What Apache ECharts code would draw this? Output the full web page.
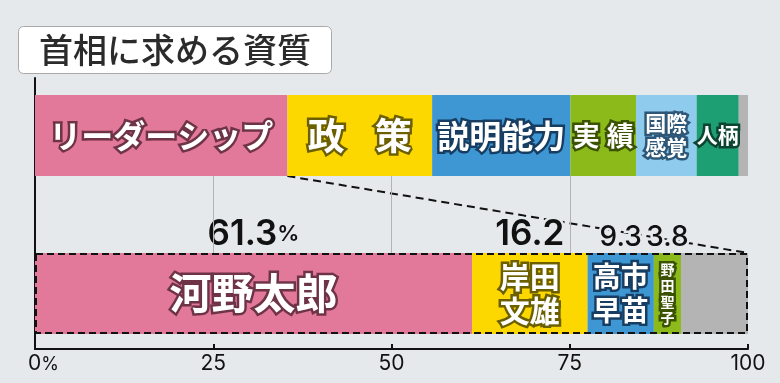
<!DOCTYPE html>
<html><head><meta charset="utf-8">
<script src="https://cdn.jsdelivr.net/npm/echarts/dist/echarts.min.js"></script>
<style>html,body{margin:0;padding:0;background:#e6e9eb}#c{width:780px;height:383px}</style>
</head><body><div id="c"></div>
<script>
// ---- data ----
const chartTitle = '首相に求める資質';
const topCategories = ['リーダーシップ', '政策', '説明能力', '実績', '国際感覚', '人柄', 'その他'];
const topLabels = ['リーダーシップ', '政{g|}策', '説明能力', '実{h|}績', '国際\n感覚', '人柄', ''];
const topValues = [35.4, 20.3, 19.4, 9.2, 8.5, 5.9, 1.3];
const candidates = ['河野太郎', '岸田文雄', '高市早苗', '野田聖子', 'その他'];
const candidateLabels = ['河野太郎', '岸田\n文雄', '高市\n早苗', '野\n田\n聖\n子', ''];
const candidateValues = [61.3, 16.2, 9.3, 3.8, 9.4];
const candidateValueLabels = ['61.3', '16.2', '9.3', '3.8', ''];
const axisTicks = [0, 25, 50, 75, 100];
const gridLineValues = [25, 50, 75];

// ---- styles ----
const FONT_JP = '"Noto Sans CJK JP", "Noto Sans", sans-serif';
const FONT_NUM = 'Inter, Lato, "Open Sans", sans-serif';
const topColors = ['#e3799a', '#fcd800', '#3e97d3', '#8cba1b', '#8fcbec', '#1d9e73', '#b4b4b4'];
const topStrokes = ['#6e3346', '#6b5f00', '#173e62', '#3b5200', '#2d5677', '#0b4532', '#000'];
const topFont = [{s: 32}, {s: 37}, {s: 32}, {s: 27}, {s: 21, lh: 24}, {s: 21}, {s: 10}];
const candColors = ['#e3799a', '#fcd800', '#3e97d3', '#8cba1b', '#b4b4b4'];
const candStrokes = ['#6e3346', '#6b5f00', '#173e62', '#3b5200', '#000'];
const candFont = [{s: 42}, {s: 30, lh: 34}, {s: 28, lh: 34}, {s: 14, lh: 16}, {s: 10}];
const BG = '#e6e9eb';

const axMin = axisTicks[0], axMax = axisTicks[axisTicks.length - 1];
const axInterval = axisTicks[1] - axisTicks[0];

const series = [];
topValues.forEach((v, i) => {
  series.push({
    type: 'bar', name: topCategories[i], xAxisIndex: 1, yAxisIndex: 1, stack: 'top',
    barWidth: '100%', barCategoryGap: '0%', data: [v], silent: true,
    itemStyle: {color: topColors[i]},
    label: {
      show: topLabels[i] !== '', position: 'inside', formatter: topLabels[i],
      color: '#fff', fontFamily: FONT_JP, fontWeight: 'bold', fontSize: topFont[i].s,
      lineHeight: topFont[i].lh || topFont[i].s + 2,
      textBorderColor: topStrokes[i], textBorderWidth: 5,
      rich: {g: {width: 30}, h: {width: 7}}
    }
  });
});
candidateValues.forEach((v, i) => {
  series.push({
    type: 'bar', name: candidates[i], xAxisIndex: 2, yAxisIndex: 2, stack: 'cand',
    barWidth: '100%', barGap: '-100%', barCategoryGap: '0%', data: [v], silent: true, z: 2,
    itemStyle: {color: candColors[i]},
    label: {
      show: candidateLabels[i] !== '', position: 'inside', formatter: candidateLabels[i],
      color: '#fff', fontFamily: FONT_JP, fontWeight: 'bold', fontSize: candFont[i].s,
      lineHeight: candFont[i].lh || candFont[i].s + 2,
      textBorderColor: candStrokes[i], textBorderWidth: 5
    }
  });
});
// value labels above each candidate segment (transparent stack, same values)
candidateValues.forEach((v, i) => {
  const txt = candidateValueLabels[i];
  let fmt = '';
  if (txt) fmt = i === 0 ? '{v|' + txt + '}{p|%}' : (v < 10 ? '{s|' + txt + '}' : '{v|' + txt + '}');
  series.push({
    type: 'bar', name: candidates[i] + '値', xAxisIndex: 2, yAxisIndex: 2, stack: 'candLabel',
    barWidth: '100%', barGap: '-100%', barCategoryGap: '0%', data: [v], silent: true, z: 3,
    itemStyle: {color: 'rgba(0,0,0,0)'},
    label: {
      show: txt !== '', position: 'top', distance: 1, formatter: fmt,
      rich: {
        v: {fontFamily: FONT_NUM, fontSize: 35, fontWeight: 600, color: '#111', textBorderColor: BG, textBorderWidth: 5},
        p: {fontFamily: FONT_NUM, fontSize: 22, fontWeight: 600, color: '#111', textBorderColor: BG, textBorderWidth: 5},
        s: {fontFamily: FONT_NUM, fontSize: 28, fontWeight: 500, color: '#111', textBorderColor: BG, textBorderWidth: 5}
      }
    }
  });
});
// dashed frame around candidate bar
series.push({
  type: 'bar', name: '枠', xAxisIndex: 2, yAxisIndex: 2, stack: 'frame',
  barWidth: '100%', barGap: '-100%', barCategoryGap: '0%', silent: true, z: 5,
  data: [candidateValues.reduce((a, b) => a + b, 0)],
  itemStyle: {color: 'rgba(0,0,0,0)', borderColor: '#111', borderWidth: 2, borderType: [7, 4]},
  label: {show: false}
});
// connector dashed line + gridlines
series.push({
  type: 'line', name: '連結', xAxisIndex: 3, yAxisIndex: 3, z: 1, silent: true,
  data: [[topValues[0], 1], [axMax, 0]], symbol: 'none',
  lineStyle: {color: '#111', width: 2, type: [8, 5]},
  markLine: {
    silent: true, symbol: 'none', label: {show: false},
    lineStyle: {color: '#b3b3b3', width: 1, type: 'solid'},
    data: gridLineValues.map(v => ({xAxis: v}))
  }
});

const hiddenX = (idx) => ({gridIndex: idx, type: 'value', min: axMin, max: axMax, show: false});
const option = {
  backgroundColor: BG,
  animation: false,
  title: {
    text: chartTitle, left: 18, top: 26,
    backgroundColor: '#fff', borderColor: '#a9a9a9', borderWidth: 1, borderRadius: 5,
    padding: [6, 21, 6, 21],
    textStyle: {fontFamily: FONT_JP, fontSize: 34, fontWeight: 500, color: '#2b2b2b', lineHeight: 36}
  },
  grid: [
    {left: 35, right: 32, top: 78, bottom: 34, outerBoundsMode: 'none'},
    {left: 35, right: 32, top: 95, height: 81, outerBoundsMode: 'none'},
    {left: 35, right: 32, top: 253, height: 81, outerBoundsMode: 'none'},
    {left: 35, right: 32, top: 176, height: 77, outerBoundsMode: 'none'}
  ],
  xAxis: [
    {
      gridIndex: 0, type: 'value', min: axMin, max: axMax, interval: axInterval,
      axisLine: {show: true, lineStyle: {color: '#111', width: 2}},
      axisTick: {show: true, inside: true, length: 5, lineStyle: {color: '#111', width: 2}},
      splitLine: {show: false},
      axisLabel: {
        show: true, margin: 4, color: '#111', fontFamily: FONT_NUM, fontSize: 21, fontWeight: 400,
        formatter: (v) => v === 0 ? '{s|}0{p|%}' : String(v),
        rich: {s: {width: 17}, p: {fontSize: 18, fontFamily: FONT_NUM, fontWeight: 400, color: '#111', padding: [2, 0, 0, 0]}}
      }
    },
    hiddenX(1), hiddenX(2), hiddenX(3)
  ],
  yAxis: [
    {
      gridIndex: 0, type: 'value', min: 0, max: 1,
      axisLine: {show: true, lineStyle: {color: '#111', width: 2}},
      axisTick: {show: false}, axisLabel: {show: false}, splitLine: {show: false}
    },
    {gridIndex: 1, type: 'category', data: ['資質'], show: false},
    {gridIndex: 2, type: 'category', data: ['候補'], show: false},
    {gridIndex: 3, type: 'value', min: 0, max: 1, show: false}
  ],
  series: series
};
const chart = echarts.init(document.getElementById('c'), null, {renderer: 'canvas'});
chart.setOption(option);
</script>
</body></html>
